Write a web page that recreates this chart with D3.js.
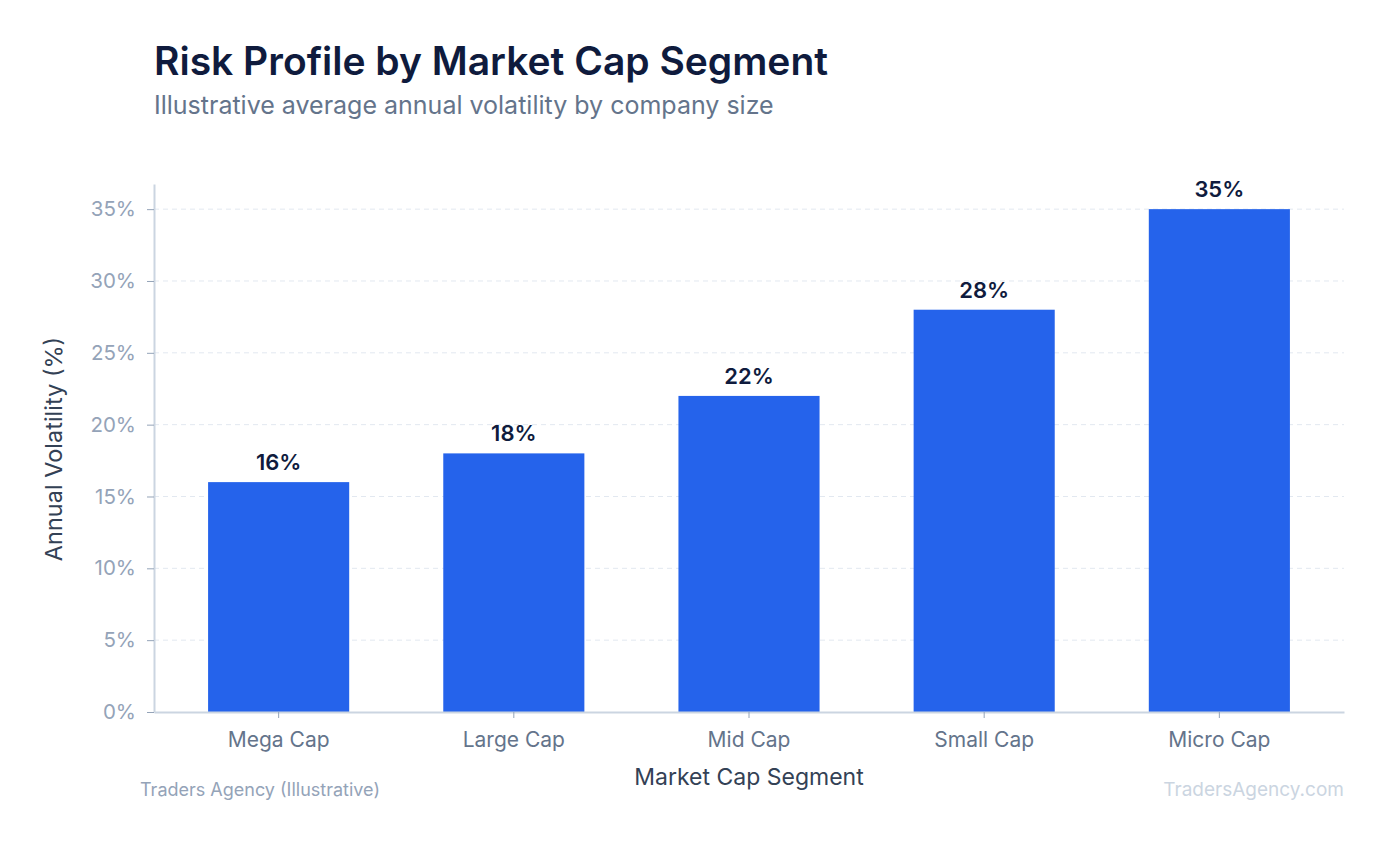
<!DOCTYPE html>
<html><head><meta charset="utf-8">
<script src="https://cdn.jsdelivr.net/npm/d3@7/dist/d3.min.js"></script>
<style>
html,body{margin:0;padding:0;background:#fff;}
svg{display:block;font-family:Inter, "Noto Sans", sans-serif;}
</style></head>
<body>
<svg id="chart" width="1389" height="845"></svg>
<script>
const categories = ["Mega Cap", "Large Cap", "Mid Cap", "Small Cap", "Micro Cap"];
const volatility = [16, 18, 22, 28, 35];
const yTicks = [0, 5, 10, 15, 20, 25, 30, 35];

const svg = d3.select("#chart");
const m = {left: 154, right: 1344, top: 184, bottom: 712};

const x = d3.scaleBand().domain(categories).range([m.left, m.right]).paddingInner(0.4).paddingOuter(0.23);
const y = d3.scaleLinear().domain([0, d3.max(volatility) * 1.05]).range([m.bottom, m.top]);

// title
svg.append("text").attr("x", 154).attr("y", 75).attr("font-size", 39).attr("font-weight", 600)
  .attr("fill", "#0f1b3d").text("Risk Profile by Market Cap Segment");
svg.append("text").attr("x", 154).attr("y", 114).attr("font-size", 25).attr("fill", "#64748b")
  .text("Illustrative average annual volatility by company size");

// grid
svg.append("g").selectAll("line").data(yTicks.filter(d => d > 0)).join("line")
  .attr("x1", m.left).attr("x2", m.right).attr("y1", d => y(d)).attr("y2", d => y(d))
  .attr("stroke", "#e2e8f0").attr("stroke-width", 1).attr("stroke-dasharray", "5,4");

// bars
svg.append("g").selectAll("rect").data(volatility).join("rect")
  .attr("x", (d, i) => x(categories[i])).attr("width", x.bandwidth())
  .attr("y", d => y(d)).attr("height", d => y(0) - y(d)).attr("fill", "#2563eb");

// value labels
svg.append("g").selectAll("text").data(volatility).join("text")
  .attr("x", (d, i) => x(categories[i]) + x.bandwidth() / 2).attr("y", d => y(d) - 12)
  .attr("text-anchor", "middle").attr("font-size", 22).attr("font-weight", 600).attr("fill", "#0f1b3d")
  .text(d => d + "%");

// y axis
const yAxis = svg.append("g").attr("transform", `translate(${m.left},0)`)
  .call(d3.axisLeft(y).tickValues(yTicks).tickFormat(d => d + "%").tickSize(7).tickPadding(11).tickSizeOuter(0));
yAxis.select(".domain").attr("stroke", "#cbd5e1").attr("stroke-width", 2);
yAxis.selectAll(".tick line").attr("stroke", "#94a3b8");
yAxis.selectAll(".tick text").attr("font-size", 20.5).attr("fill", "#94a3b8").attr("font-family", "Inter, sans-serif");

// x axis
const xAxis = svg.append("g").attr("transform", `translate(0,${m.bottom})`)
  .call(d3.axisBottom(x).tickSize(6).tickPadding(14).tickSizeOuter(0));
xAxis.select(".domain").attr("stroke", "#cbd5e1").attr("stroke-width", 2);
xAxis.selectAll(".tick line").attr("stroke", "#94a3b8");
xAxis.selectAll(".tick text").attr("font-size", 21).attr("fill", "#64748b").attr("font-family", "Inter, sans-serif");

// axis titles
svg.append("text").attr("transform", `translate(62,${(m.top + m.bottom) / 2 + 1}) rotate(-90)`)
  .attr("text-anchor", "middle").attr("font-size", 23.5).attr("fill", "#334155").text("Annual Volatility (%)");
svg.append("text").attr("x", (m.left + m.right) / 2).attr("y", 785).attr("text-anchor", "middle")
  .attr("font-size", 23).attr("fill", "#334155").text("Market Cap Segment");

// footer
svg.append("text").attr("x", 140).attr("y", 796).attr("font-size", 18).attr("fill", "#94a3b8")
  .text("Traders Agency (Illustrative)");
svg.append("text").attr("x", 1344).attr("y", 796).attr("text-anchor", "end").attr("font-size", 19)
  .attr("fill", "#cbd5e1").text("TradersAgency.com");
</script>
</body></html>
